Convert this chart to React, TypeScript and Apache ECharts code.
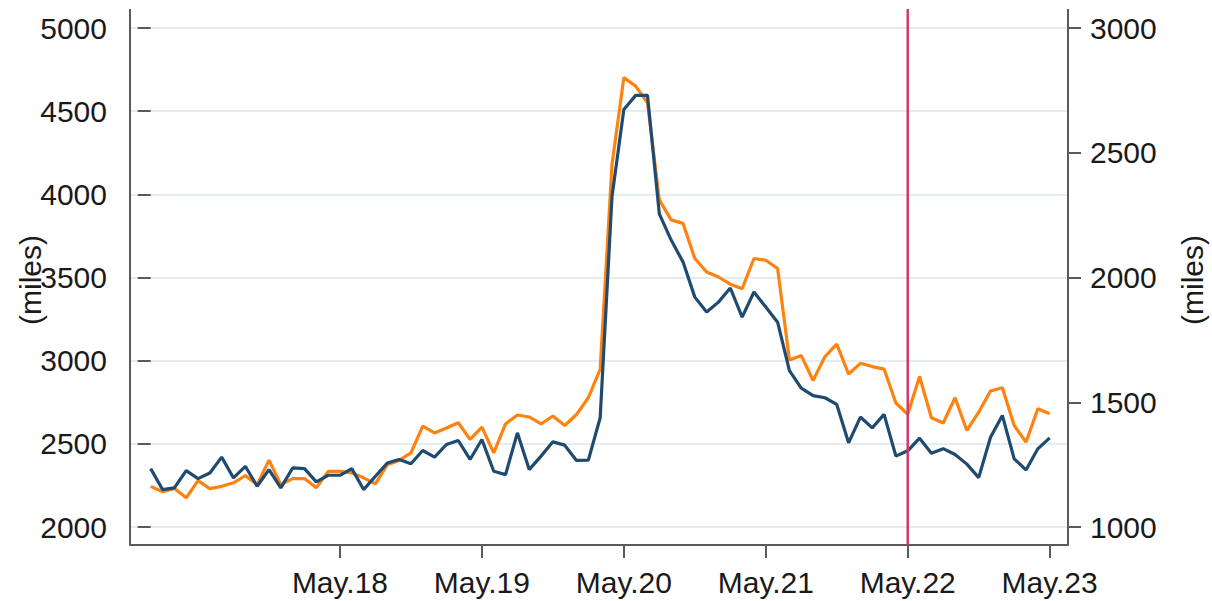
import React, { useEffect, useRef } from "react";
import * as echarts from "echarts";

// Monthly observations, Jan 2017 (index 0) .. May 2023 (index 76)

// Blue series (left axis, miles)
const blueSeries = [
  2351, 2225, 2235, 2339, 2291, 2325, 2420, 2295, 2365, 2245, 2345, 2235,
  2355, 2351, 2271, 2311, 2311, 2351, 2225, 2305, 2385, 2406, 2380, 2460,
  2420, 2496, 2520, 2406, 2526, 2335, 2315, 2566, 2345, 2426, 2512, 2492,
  2400, 2402, 2657, 3987, 4510, 4595, 4595, 3882, 3725, 3594, 3382, 3292,
  3352, 3437, 3262, 3413, 3322, 3231, 2940, 2835, 2790, 2777, 2737, 2506,
  2661, 2596, 2677, 2426, 2458, 2534, 2443, 2471, 2436, 2378, 2297, 2540,
  2671, 2410, 2343, 2470, 2536,
];

// Orange series (right axis, miles)
const orangeSeries = [
  1163, 1141, 1154, 1117, 1186, 1154, 1163, 1177, 1206, 1170, 1268, 1170,
  1194, 1194, 1157, 1223, 1223, 1217, 1197, 1173, 1250, 1267, 1297, 1404,
  1377, 1397, 1418, 1351, 1400, 1297, 1413, 1449, 1441, 1413, 1445, 1407,
  1451, 1518, 1633, 2453, 2801, 2767, 2700, 2311, 2231, 2217, 2076, 2022,
  2002, 1973, 1955, 2076, 2069, 2036, 1669, 1687, 1587, 1683, 1733, 1613,
  1656, 1643, 1633, 1497, 1452, 1603, 1438, 1417, 1518, 1387, 1460, 1545,
  1558, 1407, 1340, 1474, 1454,
];

const tickLabels = ["May.18", "May.19", "May.20", "May.21", "May.22", "May.23"];
const tickIndex = [16, 28, 40, 52, 64, 76];
const markerIndex = 64; // May.22

const leftTicks = [2000, 2500, 3000, 3500, 4000, 4500, 5000];
const rightTicks = [1000, 1500, 2000, 2500, 3000];

export default function App() {
  const ref = useRef<HTMLDivElement>(null);

  useEffect(() => {
    if (!ref.current) return;
    const chart = echarts.init(ref.current, null, { renderer: "svg" });
    const font = "Arial, 'Liberation Sans', sans-serif";
    const textColor = "#1a1a1a";
    const axisColor = "#5a5a5a";

    const blueData = blueSeries.map((v, i) => [i, v]);
    const orangeData = orangeSeries.map((v, i) => [i, v]);

    const plain = (v: number) => String(v);

    chart.setOption({
      animation: false,
      backgroundColor: "#ffffff",
      grid: { left: 130, right: 144, top: 28, bottom: 74, containLabel: false },
      xAxis: {
        type: "value",
        min: -1.75,
        max: 77.55,
        offset: 18,
        axisLine: { show: true, lineStyle: { color: axisColor, width: 2 } },
        axisTick: {
          show: true,
          customValues: tickIndex,
          length: 13,
          inside: false,
          lineStyle: { color: axisColor, width: 2 },
        },
        axisLabel: {
          customValues: tickIndex,
          formatter: (v: number) => {
            const k = tickIndex.indexOf(Math.round(v));
            return k >= 0 ? tickLabels[k] : "";
          },
          fontSize: 30,
          fontFamily: font,
          color: textColor,
          margin: 22,
        },
        splitLine: { show: false },
      },
      yAxis: [
        {
          type: "value",
          min: leftTicks[0],
          max: leftTicks[leftTicks.length - 1],
          interval: 500,
          position: "left",
          axisLine: { show: false },
          axisTick: { show: true, length: 13, lineStyle: { color: axisColor, width: 2 } },
          axisLabel: { fontSize: 30, fontFamily: font, color: textColor, margin: 23, formatter: plain },
          splitLine: { show: true, lineStyle: { color: "#e4eef2", width: 2 } },
        },
        {
          type: "value",
          min: rightTicks[0],
          max: rightTicks[rightTicks.length - 1],
          interval: 500,
          position: "right",
          axisLine: { show: false },
          axisTick: { show: true, length: 13, lineStyle: { color: axisColor, width: 2 } },
          axisLabel: { fontSize: 30, fontFamily: font, color: textColor, margin: 22, formatter: plain },
          splitLine: { show: false },
        },
      ],
      series: [
        {
          name: "orange",
          type: "line",
          yAxisIndex: 1,
          data: orangeData,
          showSymbol: false,
          symbol: "none",
          lineStyle: { color: "#ff820f", width: 3.2 },
          z: 2,
        },
        {
          name: "blue",
          type: "line",
          yAxisIndex: 0,
          data: blueData,
          showSymbol: false,
          symbol: "none",
          lineStyle: { color: "#1f4b70", width: 3.2 },
          z: 3,
        },
      ],
      graphic: [
        {
          type: "polyline",
          shape: { points: [[130, 9], [130, 545]] },
          style: { stroke: axisColor, lineWidth: 2, fill: null },
          z: 10,
        },
        {
          type: "polyline",
          shape: { points: [[1068, 9], [1068, 545]] },
          style: { stroke: axisColor, lineWidth: 2, fill: null },
          z: 10,
        },
        {
          type: "text",
          x: 30,
          y: 280,
          rotation: Math.PI / 2,
          style: {
            text: "(miles)",
            font: `30px ${font}`,
            fill: textColor,
            textAlign: "center",
            textVerticalAlign: "middle",
          },
        },
        {
          type: "text",
          x: 1192,
          y: 280,
          rotation: Math.PI / 2,
          style: {
            text: "(miles)",
            font: `30px ${font}`,
            fill: textColor,
            textAlign: "center",
            textVerticalAlign: "middle",
          },
        },
      ],
    });

    // vertical marker at May.22, positioned through the x axis scale
    const mx = chart.convertToPixel({ xAxisIndex: 0 }, markerIndex) as number;
    chart.setOption({
      graphic: [
        {
          id: "marker",
          type: "line",
          shape: { x1: mx, y1: 9, x2: mx, y2: 545 },
          style: { stroke: "#d23a67", lineWidth: 2.5 },
          z: 20,
        },
      ],
    });

    return () => chart.dispose();
  }, []);

  return (
    <div
      ref={ref}
      style={{ position: "absolute", left: 0, top: 0, width: 1212, height: 601 }}
    />
  );
}
